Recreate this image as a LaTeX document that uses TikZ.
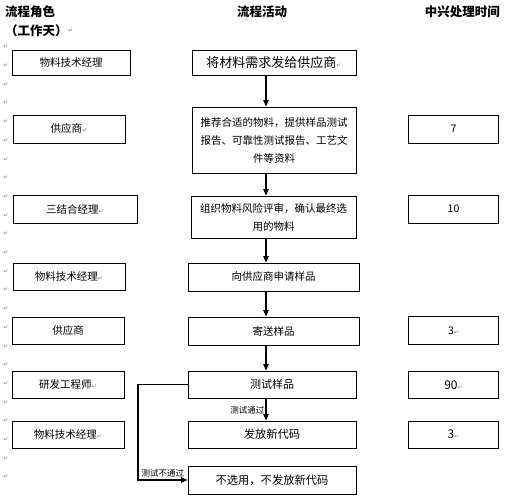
\documentclass[tikz,border=0pt]{standalone}
\usepackage{fontspec}
\setmainfont{Noto Sans CJK SC}
\newfontfamily\symfont{DejaVu Sans}
\usetikzlibrary{arrows.meta}
\newcommand{\parmark}{{\symfont\color{gray}\fontsize{6}{6}\selectfont ↵}}
\tikzset{
  box/.style={draw, line width=1pt, inner sep=1pt, align=center, font=\fontsize{10.5}{18}\selectfont},
  head/.style={font=\bfseries\fontsize{12.5}{14}\selectfont, inner sep=0pt},
  lbl/.style={font=\fontsize{8.5}{9}\selectfont, inner sep=0pt},
  flow/.style={line width=1.1pt, -{Triangle[length=6.5pt,width=5.5pt]}},
  pmk/.style={inner sep=0pt, font=\symfont\fontsize{6}{6}\selectfont, text=gray}
}
\begin{document}
\begin{tikzpicture}[x=1pt,y=-1pt]
\useasboundingbox (0,0) rectangle (506,498);
% headers
\node[head, anchor=west] (h1) at (5,12) {流程角色};
\node[head, anchor=west] (h1b) at (5,31) {（工作天）};
\node[pmk, anchor=west] (h1m) at (h1b.east) {↵};
\node[head] (h2) at (262,12) {流程活动};
\node[head, anchor=east] (h3) at (500,12) {中兴处理时间};
% margin paragraph marks
\foreach \i in {0,...,23}{
  \node[pmk] (pm\i) at (6,{47+18.7*\i}) {↵};
}
% left column
\node[box, minimum width=118pt, minimum height=25pt] (r1) at (71,62.5) {物料技术经理};
\node[box, minimum width=112pt, minimum height=28pt] (r2) at (69,129) {供应商\parmark};
\node[box, minimum width=124pt, minimum height=28pt] (r3) at (75,209) {三结合经理\parmark};
\node[box, minimum width=112pt, minimum height=27pt] (r4) at (69,276.5) {物料技术经理\parmark};
\node[box, minimum width=112pt, minimum height=27pt] (r5) at (68,330.5) {供应商};
\node[box, minimum width=112pt, minimum height=27pt] (r6) at (68,384.5) {研发工程师\parmark};
\node[box, minimum width=112pt, minimum height=27pt] (r7) at (68,434.5) {物料技术经理\parmark};
% middle column
\node[box, minimum width=164pt, minimum height=25pt, font=\fontsize{13}{14}\selectfont] (a) at (274,62.5) {将材料需求发给供应商\parmark};
\node[box, minimum width=164pt, minimum height=66pt] (b) at (274,140) {推荐合适的物料，提供样品测试\\报告、可靠性测试报告、工艺文\\件等资料};
\node[box, minimum width=165pt, minimum height=42pt] (c) at (273.5,217) {组织物料风险评审，确认最终选\\用的物料};
\node[box, minimum width=171pt, minimum height=28pt] (d) at (273.5,277) {向供应商申请样品};
\node[box, minimum width=171pt, minimum height=28pt] (e) at (273.5,331) {寄送样品};
\node[box, minimum width=168pt, minimum height=27pt, font=\fontsize{11}{12}\selectfont] (f) at (272,384.5) {测试样品};
\node[box, minimum width=168pt, minimum height=27pt, font=\fontsize{11.3}{12}\selectfont] (g) at (272,434.5) {发放新代码};
\node[box, minimum width=168pt, minimum height=28pt, font=\fontsize{11.3}{12}\selectfont] (h) at (272,480) {不选用，不发放新代码};
% right column
\node[box, minimum width=90pt, minimum height=28pt] (t1) at (453.5,129) {7};
\node[box, minimum width=90pt, minimum height=28pt] (t2) at (453.5,209) {10};
\node[box, minimum width=90pt, minimum height=28pt] (t3) at (453.5,330.5) {3\parmark};
\node[box, minimum width=90pt, minimum height=27pt, font=\fontsize{12}{12}\selectfont] (t4) at (453.5,385) {90\parmark};
\node[box, minimum width=90pt, minimum height=27pt, font=\fontsize{12}{12}\selectfont] (t5) at (453.5,434.5) {3\parmark};
% connectors
\coordinate (ax) at (266,0);
\draw[flow] (a.south -| ax) -- (b.north -| ax);
\draw[flow] (b.south -| ax) -- (c.north -| ax);
\draw[flow] (c.south -| ax) -- (d.north -| ax);
\draw[flow] (d.south -| ax) -- (e.north -| ax);
\draw[flow] (e.south -| ax) -- (f.north -| ax);
\draw[flow] (f.south -| ax) -- node[lbl, pos=0.55, anchor=east, xshift=-1pt] (l1) {测试通过} (g.north -| ax);
\coordinate (bx) at (138,0);
\draw[flow] (f.west) -- (f.west -| bx) -- (h.west -| bx) -- node[lbl, pos=0.5, anchor=south, yshift=2pt] (l2) {测试不通过} (h.west);
\end{tikzpicture}
\end{document}
